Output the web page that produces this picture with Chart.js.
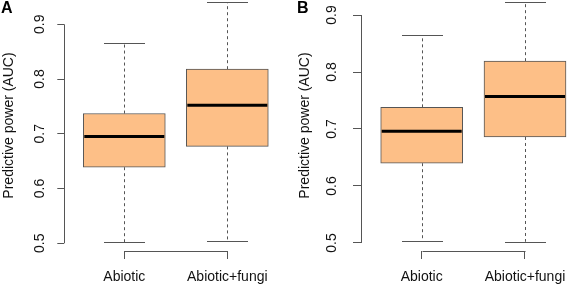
<!DOCTYPE html>
<html>
<head>
<meta charset="utf-8">
<script src="https://cdn.jsdelivr.net/npm/chart.js@4.4.1/dist/chart.umd.min.js"></script>
<style>
  body { margin: 0; background: #fff; width: 567px; height: 288px; overflow: hidden; position: relative; }
  .painel { position: absolute; top: 0; height: 288px; }
  .letra { position: absolute; top: -1px; font: bold 16px "Liberation Sans", Arial, sans-serif; color: #000; }
</style>
</head>
<body>
<div class="painel" style="left:0;width:287px"><canvas id="graficoA"></canvas></div>
<div class="painel" style="left:283px;width:284px"><canvas id="graficoB"></canvas></div>
<div class="letra" style="left:1px">A</div>
<div class="letra" style="left:297px">B</div>

<script>
// categorias e valores
const categorias = ['Abiotic', 'Abiotic+fungi'];
const ticksY = [0.5, 0.6, 0.7, 0.8, 0.9];

// painel A
const minA = [0.502, 0.505];
const q1A  = [0.639, 0.677];
const medA = [0.695, 0.752];
const q3A  = [0.737, 0.818];
const maxA = [0.865, 0.940];

// painel B
const minB = [0.503, 0.502];
const q1B  = [0.640, 0.686];
const medB = [0.696, 0.757];
const q3B  = [0.738, 0.819];
const maxB = [0.865, 0.922];

const fonte = '"Liberation Sans", Arial, sans-serif';
const corCaixa = '#FDBF87';
const corLinha = '#555555';
Chart.defaults.font.family = fonte;

function linha(ctx, x1, y1, x2, y2) {
  ctx.beginPath();
  ctx.moveTo(x1, y1);
  ctx.lineTo(x2, y2);
  ctx.stroke();
}

// desenha bigodes, medianas e as linhas dos eixos no estilo do R
const pluginBoxplot = {
  id: 'boxplot',
  beforeDatasetsDraw(chart, args, opts) {
    const ctx = chart.ctx, x = chart.scales.x, y = chart.scales.y;
    const barras = chart.getDatasetMeta(0).data;
    ctx.save();
    ctx.strokeStyle = corLinha;
    ctx.lineWidth = 1;
    opts.med.forEach((m, i) => {
      const px = Math.round(x.getPixelForValue(i + 1)) + 0.5;
      const meia = barras[i].width / 4;
      ctx.setLineDash([3, 3]);
      linha(ctx, px, y.getPixelForValue(opts.q3[i]), px, y.getPixelForValue(opts.max[i]));
      linha(ctx, px, y.getPixelForValue(opts.q1[i]), px, y.getPixelForValue(opts.min[i]));
      ctx.setLineDash([]);
      const yMax = Math.round(y.getPixelForValue(opts.max[i])) + 0.5;
      const yMin = Math.round(y.getPixelForValue(opts.min[i])) + 0.5;
      linha(ctx, px - meia, yMax, px + meia, yMax);
      linha(ctx, px - meia, yMin, px + meia, yMin);
    });
    ctx.restore();
  },
  afterDatasetsDraw(chart, args, opts) {
    const ctx = chart.ctx, x = chart.scales.x, y = chart.scales.y;
    const barras = chart.getDatasetMeta(0).data;
    ctx.save();
    ctx.strokeStyle = '#000';
    ctx.lineWidth = 3;
    opts.med.forEach((m, i) => {
      const px = x.getPixelForValue(i + 1);
      const meia = barras[i].width / 2;
      const py = y.getPixelForValue(m);
      linha(ctx, px - meia + 1, py, px + meia - 1, py);
    });
    // eixo y so entre o primeiro e o ultimo tick
    ctx.strokeStyle = corLinha;
    ctx.lineWidth = 1;
    const ax = Math.round(chart.chartArea.left) + 0.5;
    linha(ctx, ax, y.getPixelForValue(ticksY[0]), ax, y.getPixelForValue(ticksY[ticksY.length - 1]));
    // eixo x tipo colchete
    const ay = Math.round(chart.chartArea.bottom) + 0.5;
    linha(ctx, Math.round(x.getPixelForValue(1)) + 0.5, ay, Math.round(x.getPixelForValue(categorias.length)) + 0.5, ay);
    ctx.restore();
  }
};

function criarGrafico(id, mins, q1s, meds, q3s, maxs, cfg) {
  const ctx = document.getElementById(id).getContext('2d');
  return new Chart(ctx, {
    type: 'bar',
    data: {
      datasets: [{
        data: q1s.map((q, i) => ({ x: i + 1, y: [q, q3s[i]] })),
        backgroundColor: corCaixa,
        borderColor: corLinha,
        borderWidth: 1,
        borderSkipped: false,
        barThickness: 82
      }]
    },
    options: {
      responsive: true,
      maintainAspectRatio: false,
      animation: false,
      layout: { padding: 0 },
      plugins: {
        legend: { display: false },
        tooltip: { enabled: false },
        boxplot: { min: mins, q1: q1s, med: meds, q3: q3s, max: maxs }
      },
      scales: {
        x: {
          type: 'linear',
          offset: false,
          min: cfg.xMin,
          max: cfg.xMax,
          afterBuildTicks(s) { s.ticks = categorias.map((c, i) => ({ value: i + 1 })); },
          afterFit(s) { s.height = 37; s.paddingLeft = 0; s.paddingRight = 0; },
          ticks: {
            callback: v => categorias[v - 1],
            font: { size: 14 },
            color: '#111',
            padding: 10,
            maxRotation: 0,
            autoSkip: false
          },
          grid: { offset: false, drawOnChartArea: false, tickLength: 8, tickColor: corLinha, tickWidth: 1 },
          border: { display: false }
        },
        y: {
          min: cfg.yMin,
          max: cfg.yMax,
          afterBuildTicks(s) { s.ticks = ticksY.map(v => ({ value: v })); },
          afterFit(s) { s.width = cfg.larguraY; s.paddingTop = 0; s.paddingBottom = 0; },
          ticks: {
            callback: v => v.toFixed(1),
            font: { size: 14 },
            color: '#111',
            minRotation: 90,
            maxRotation: 90,
            crossAlign: 'center',
            padding: cfg.padTick
          },
          grid: { drawOnChartArea: false, tickLength: cfg.tickY, tickColor: corLinha, tickWidth: 1 },
          border: { display: false },
          title: {
            display: true,
            text: 'Predictive power (AUC)',
            font: { size: 14 },
            color: '#111',
            padding: { top: cfg.padTitulo, bottom: 0 }
          }
        }
      }
    },
    plugins: [pluginBoxplot]
  });
}

criarGrafico('graficoA', minA, q1A, medA, q3A, maxA, {
  xMin: 0.4175, xMax: 2.5796, yMin: 0.48594, yMax: 0.94438,
  larguraY: 64.3, padTick: 7.5, tickY: 7, padTitulo: 0.5
});
criarGrafico('graficoB', minB, q1B, medB, q3B, maxB, {
  xMin: 0.4124, xMax: 2.4066, yMin: 0.48596, yMax: 0.92632,
  larguraY: 78, padTick: 11, tickY: 8, padTitulo: 13.6
});
</script>
</body>
</html>
